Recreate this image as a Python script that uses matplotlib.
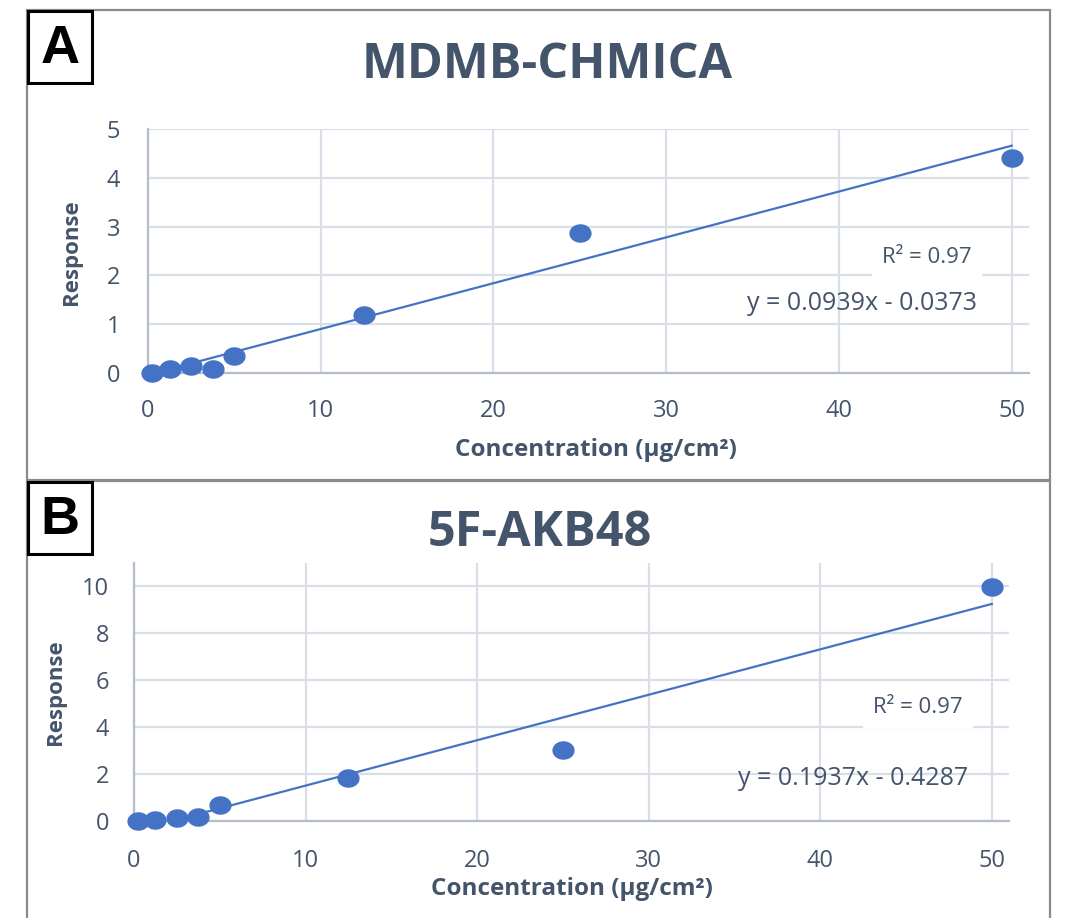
import numpy as np
import matplotlib
matplotlib.use("Agg")
import matplotlib.pyplot as plt
from matplotlib.patches import Rectangle

# data
conc = [0.25, 1.25, 2.5, 3.75, 5, 12.5, 25, 50]
resp_a = [0.0, 0.08, 0.15, 0.08, 0.35, 1.19, 2.86, 4.40]
resp_b = [0.01, 0.04, 0.14, 0.18, 0.67, 1.82, 3.02, 9.97]
fit_a = (0.0939, -0.0373)
fit_b = (0.1937, -0.4287)
titles = ["MDMB-CHMICA", "5F-AKB48"]
panel_tags = ["A", "B"]
r2_text = "R² = 0.97"
eq_texts = ["y = 0.0939x - 0.0373", "y = 0.1937x - 0.4287"]
yticks_a = [0, 1, 2, 3, 4, 5]
yticks_b = [0, 2, 4, 6, 8, 10]
xticks = [0, 10, 20, 30, 40, 50]

W, H = 1072, 918
BLUE = "#4472c4"
TXT = "#44546a"
GRID = "#d9dee7"
AXLINE = "#b3bdcc"

plt.rcParams['font.family'] = ['Open Sans', 'DejaVu Sans']

fig = plt.figure(figsize=(W / 100, H / 100), dpi=100)


def fx(px):
    return px / W


def fy(py):
    return 1 - py / H


# ellipse marker (image is a bit stretched horizontally)
t = np.linspace(0, 2 * np.pi, 60)
ell = list(zip(np.cos(t), 0.82 * np.sin(t)))

# panel frames
fig.patches.append(Rectangle((fx(27), fy(480)), fx(1050) - fx(27), fy(10) - fy(480),
                             transform=fig.transFigure, fill=False, ec="#8a8a8a", lw=1.6))
fig.patches.append(Rectangle((fx(27), fy(930)), fx(1050) - fx(27), fy(481) - fy(930),
                             transform=fig.transFigure, fill=False, ec="#8a8a8a", lw=1.6,
                             clip_on=False))

panels = [
    dict(box=(148, 129, 1029, 373), y=resp_a, fit=fit_a, yticks=yticks_a, ylim=(0, 5),
         title_xy=(547, 65), title_fs=35, tag_y=(11, 83), xlab=(596, 450), ylab=(72, 252),
         r2=(47.7, 2.36), eq=(48.0, 1.43), xpad=19, ypad=20),
    dict(box=(134, 563, 1009, 821), y=resp_b, fit=fit_b, yticks=yticks_b, ylim=(0, 11),
         title_xy=(540, 533), title_fs=35, tag_y=(482, 554), xlab=(572, 889), ylab=(55, 692),
         r2=(48.3, 4.84), eq=(48.6, 1.82), xpad=20, ypad=18),
]

for i, p in enumerate(panels):
    l, tp, r, b = p["box"]
    ax = fig.add_axes([fx(l), fy(b), fx(r) - fx(l), fy(tp) - fy(b)])
    ax.set_xlim(0, 51)
    ax.set_ylim(*p["ylim"])
    ax.set_xticks(xticks)
    ax.set_yticks(p["yticks"])
    ax.grid(True, color=GRID, lw=1.6)
    ax.set_axisbelow(True)
    for s in ["top", "right"]:
        ax.spines[s].set_visible(False)
    for s in ["left", "bottom"]:
        ax.spines[s].set_color(AXLINE)
        ax.spines[s].set_linewidth(1.6)
    ax.tick_params(length=0, labelsize=17, labelcolor=TXT)
    ax.tick_params(axis="x", pad=p["xpad"])
    ax.tick_params(axis="y", pad=p["ypad"])

    slope, icpt = p["fit"]
    xs = np.array([min(conc), max(conc)])
    ax.plot(xs, slope * xs + icpt, color=BLUE, lw=1.6, zorder=3)
    ax.plot(conc, p["y"], ls="none", marker=ell, ms=15, color=BLUE, mec=BLUE, zorder=4,
            clip_on=False)

    ax.text(p["r2"][0], p["r2"][1], r2_text, ha="right", va="center", fontsize=16,
            color=TXT, zorder=5,
            bbox=dict(boxstyle="square,pad=0.45", fc="white", ec="none"))
    ax.text(p["eq"][0], p["eq"][1], eq_texts[i], ha="right", va="center", fontsize=18,
            color=TXT, zorder=5)

    fig.text(fx(p["title_xy"][0]), fy(p["title_xy"][1]), titles[i], ha="center",
             va="center", fontsize=p["title_fs"], fontweight="bold", color=TXT)
    fig.text(fx(p["xlab"][0]), fy(p["xlab"][1]), "Concentration (µg/cm²)", ha="center",
             va="center", fontsize=17.5, fontweight="bold", color=TXT)
    fig.text(fx(p["ylab"][0]), fy(p["ylab"][1]), "Response", ha="center", va="center",
             fontsize=16, fontweight="bold", color=TXT, rotation=90)

    # panel tag box
    y0, y1 = p["tag_y"]
    fig.patches.append(Rectangle((fx(28), fy(y1)), fx(92) - fx(28), fy(y0) - fy(y1),
                                 transform=fig.transFigure, fc="white", ec="black", lw=2.2))
    fig.text(fx(60), fy((y0 + y1) / 2 + 2), panel_tags[i], ha="center", va="center",
             fontsize=39, fontweight="bold", color="black", family="Liberation Sans")

fig.savefig("out.png", dpi=100)
